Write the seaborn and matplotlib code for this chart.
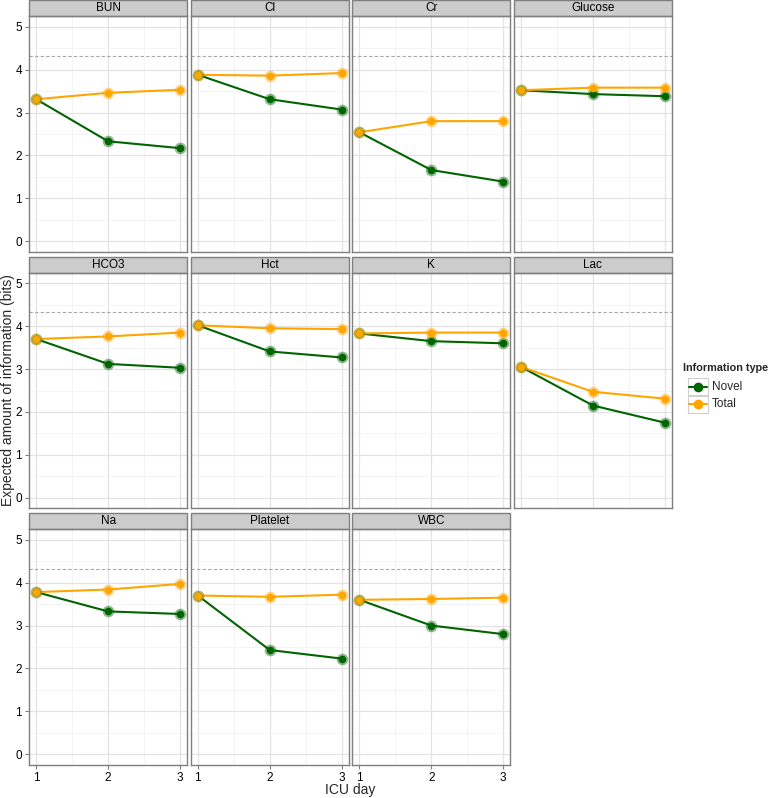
import numpy as np
import pandas as pd
import seaborn as sns
import matplotlib.pyplot as plt
from matplotlib.patches import Rectangle
from matplotlib.lines import Line2D

# --- dados ---
tests = ["BUN", "Cl", "Cr", "Glucose", "HCO3", "Hct", "K", "Lac",
         "Na", "Platelet", "WBC"]
days = [1, 2, 3]
novel = [[3.31, 2.33, 2.17], [3.88, 3.31, 3.07], [2.54, 1.66, 1.39],
         [3.52, 3.43, 3.38], [3.70, 3.12, 3.03], [4.02, 3.41, 3.27],
         [3.83, 3.65, 3.60], [3.05, 2.15, 1.75], [3.78, 3.33, 3.27],
         [3.70, 2.43, 2.23], [3.60, 3.00, 2.80]]
total = [[3.31, 3.46, 3.53], [3.88, 3.86, 3.92], [2.54, 2.80, 2.80],
         [3.52, 3.58, 3.58], [3.70, 3.76, 3.85], [4.02, 3.95, 3.93],
         [3.83, 3.85, 3.85], [3.05, 2.47, 2.31], [3.78, 3.84, 3.97],
         [3.70, 3.67, 3.72], [3.60, 3.62, 3.65]]
max_info = 4.32  # linha tracejada

types = ["Novel", "Total"]
palette = {"Novel": "#006400", "Total": "#FFA500"}

rows = []
for i, t in enumerate(tests):
    for j, d in enumerate(days):
        rows.append((t, d, "Novel", novel[i][j]))
        rows.append((t, d, "Total", total[i][j]))
df = pd.DataFrame(rows, columns=["test", "day", "type", "value"])

sns.set_theme(style="white")
plt.rcParams['font.family'] = ['Liberation Sans', 'DejaVu Sans']


def draw(data, **kws):
    ax = plt.gca()
    ax.axhline(max_info, color="#A8A8A8", ls=(0, (3, 2)), lw=0.8, zorder=1)
    sns.lineplot(data=data, x="day", y="value", hue="type", hue_order=types,
                 palette=palette, legend=False, lw=1.5, ax=ax, zorder=3)
    for tp in types:
        sub = data[data["type"] == tp]
        sns.scatterplot(data=sub, x="day", y="value", color=palette[tp], s=70,
                        alpha=0.45, linewidth=0, legend=False, ax=ax, zorder=4)
        sns.scatterplot(data=sub, x="day", y="value", color=palette[tp], s=30,
                        linewidth=0, legend=False, ax=ax, zorder=5)


g = sns.FacetGrid(df, col="test", col_wrap=4, col_order=tests,
                  sharex=True, sharey=True, height=2.36, aspect=158 / 236,
                  despine=False)
g.map_dataframe(draw)
g.figure.set_size_inches(7.78, 7.98)
g.set_titles("")
g.set_axis_labels("", "")
g.set(xlim=(0.9, 3.1), ylim=(-0.25, 5.25), xticks=[1, 2, 3], yticks=range(6))
g.figure.subplots_adjust(left=29 / 778, right=672 / 778, top=1 - 16 / 798,
                         bottom=1 - 765 / 798, wspace=0.022, hspace=0.087)

strip_h = 16 / 236
for i, (ax, t) in enumerate(zip(g.axes.flat, tests)):
    ax.set_xticks([1.5, 2.5], minor=True)
    ax.set_yticks(np.arange(0.5, 5, 1), minor=True)
    ax.grid(True, which="major", color="#E3E3E3", lw=0.9, zorder=0)
    ax.grid(True, which="minor", color="#F3F3F3", lw=0.6, zorder=0)
    ax.set_axisbelow(True)
    for s in ax.spines.values():
        s.set_visible(True)
        s.set_color("#7F7F7F")
        s.set_linewidth(1.0)
    left_col = (i % 4 == 0)
    bottom_row = (i >= 8)
    ax.tick_params(which="major", direction="out", length=3, width=0.8,
                   color="#7F7F7F", labelsize=8.5, labelcolor="black",
                   left=left_col, labelleft=left_col,
                   bottom=bottom_row, labelbottom=bottom_row, pad=2)
    ax.tick_params(which="minor", length=0)
    ax.add_patch(Rectangle((0, 1), 1, strip_h, transform=ax.transAxes,
                           facecolor="#CCCCCC", edgecolor="#7F7F7F", lw=1.0,
                           clip_on=False))
    ax.text(0.5, 1 + strip_h / 2, t, transform=ax.transAxes, ha="center",
            va="center", fontsize=8.5, color="black")

fig = g.figure
fig.text(8 / 778, 1 - 390 / 798, "Expected amount of information (bits)",
         rotation=90, ha="center", va="center", fontsize=10)
fig.text(350 / 778, 1 - 790 / 798, "ICU day", ha="center", va="center",
         fontsize=10)

# legenda
fig.text(683 / 778, 1 - 368 / 798, "Information type", ha="left",
         va="center", fontsize=7.8, fontweight="bold")
for k, tp in enumerate(types):
    y0 = 378 + k * 18
    fig.patches.append(Rectangle((688 / 778, 1 - (y0 + 17) / 798), 20 / 778,
                                 17 / 798, transform=fig.transFigure,
                                 facecolor="white", edgecolor="#D0D0D0",
                                 lw=0.8))
    yc = 1 - (y0 + 8.5) / 798
    fig.lines.append(Line2D([689 / 778, 707 / 778], [yc, yc],
                            transform=fig.transFigure, color=palette[tp],
                            lw=1.5))
    fig.lines.append(Line2D([698 / 778], [yc], transform=fig.transFigure,
                            marker="o", ms=6, color=palette[tp], lw=0))
    fig.text(712 / 778, yc, tp, ha="left", va="center", fontsize=8.5)

fig.savefig("out.png", dpi=100)
